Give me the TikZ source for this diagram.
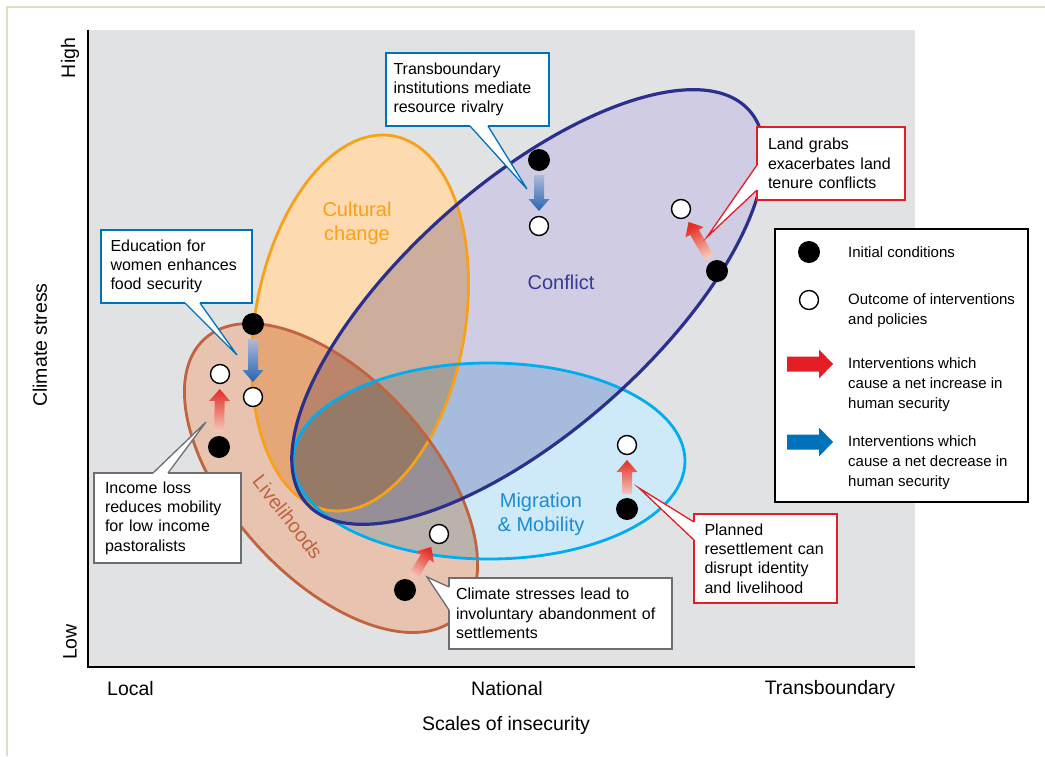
\documentclass[tikz,border=0pt]{standalone}
\usepackage{fontspec}
\setmainfont{Liberation Sans}
\usetikzlibrary{calc}

\definecolor{bggray}{RGB}{225,226,228}
\definecolor{framegreen}{RGB}{211,229,189}
\definecolor{cultfill}{RGB}{253,218,175}
\definecolor{cultline}{RGB}{247,161,26}
\definecolor{livfill}{RGB}{232,196,176}
\definecolor{livline}{RGB}{192,99,62}
\definecolor{conffill}{RGB}{207,204,228}
\definecolor{confline}{RGB}{43,48,140}
\definecolor{conftext}{RGB}{52,58,150}
\definecolor{migfill}{RGB}{206,234,248}
\definecolor{migline}{RGB}{0,174,239}
\definecolor{migtext}{RGB}{28,140,208}
\definecolor{callblue}{RGB}{0,114,188}
\definecolor{callgray}{RGB}{109,110,113}
\definecolor{callred}{RGB}{226,30,38}
\definecolor{arrred}{RGB}{228,45,38}
\definecolor{arrredpale}{RGB}{244,200,186}
\definecolor{arrblue}{RGB}{40,100,178}
\definecolor{arrbluepale}{RGB}{172,186,216}
\definecolor{legred}{RGB}{227,30,36}
\definecolor{legblue}{RGB}{0,114,188}

\newcommand{\cultell}[1]{\path[#1, rotate around={-10:(360,323)}] (360,323) ellipse [x radius=105, y radius=190];}
\newcommand{\livell}[1]{\path[#1, rotate around={-47.7:(331,478)}] (331,478) ellipse [x radius=188, y radius=100];}
\newcommand{\confell}[1]{\path[#1, rotate around={41.6:(528,307)}] (528,307) ellipse [x radius=296, y radius=124];}
\newcommand{\migell}[1]{\path[#1] (489,461) ellipse [x radius=196, y radius=98];}

\newcommand{\fatarrow}[5]{%
  \coordinate (fa-t) at ($(#1)!15pt!(#2)$);
  \coordinate (fa-h) at ($(#2)!15pt!(#1)$);
  \coordinate (fa-b) at ($(fa-h)!12pt!(fa-t)$);
  \shade[top color=#3, bottom color=#4, shading angle=#5]
    ($(fa-t)!5pt!90:(fa-h)$) -- ($(fa-b)!5pt!-90:(fa-t)$) -- ($(fa-b)!10.5pt!-90:(fa-t)$) -- (fa-h)
    -- ($(fa-b)!10.5pt!90:(fa-t)$) -- ($(fa-b)!5pt!90:(fa-t)$) -- ($(fa-t)!5pt!-90:(fa-h)$) -- cycle;
}

\newcommand{\callptr}[4]{%
  \draw[white, line width=2pt] #1 -- #2;
  \filldraw[fill=white, draw=#4, line width=1.3pt] #1 -- #3 -- #2;
}

\begin{document}
\begin{tikzpicture}[x=1pt,y=-1pt,
  bdot/.style={circle, fill=black, minimum size=22pt, inner sep=0pt, outer sep=0pt},
  wdot/.style={circle, fill=white, draw=black, line width=1.4pt, minimum size=19pt, inner sep=0pt},
  callbox/.style={draw, fill=white, line width=1.3pt, anchor=north west, align=left, inner ysep=0pt, outer sep=0pt, font=\fontsize{16}{19.3}\selectfont},
  axlabel/.style={font=\fontsize{19.5}{23}\selectfont, inner sep=0pt},
  ellabel/.style={font=\fontsize{20}{24}\selectfont, align=center, inner sep=0pt},
  leglabel/.style={font=\fontsize{15}{20}\selectfont, align=left, inner sep=0pt, anchor=west},
]
\useasboundingbox (0,0) rectangle (1045,756);
\fill[white] (0,0) rectangle (1045,756);
\draw[framegreen, line width=2pt] (7,756) -- (7,7) -- (1045,7);
\fill[bggray] (88,30) rectangle (915,667);

% ellipses
\cultell{fill=white}\livell{fill=white}\confell{fill=white}\migell{fill=white}
\begin{scope}[blend mode=multiply]
\cultell{fill=cultfill}
\livell{fill=livfill}
\confell{fill=conffill}
\migell{fill=migfill}
\end{scope}
\cultell{draw=cultline, line width=2.8pt}
\livell{draw=livline, line width=2.8pt}
\migell{draw=migline, line width=2.8pt}
\confell{draw=confline, line width=3.2pt}

% ellipse labels
\node[ellabel, text=cultline] (lcult) at (357,223) {Cultural\\change};
\node[ellabel, text=conftext] (lconf) at (561,282) {Conflict};
\node[ellabel, text=migtext] (lmig) at (541,514) {Migration\\\& Mobility};
\node[ellabel, text=livline, rotate=-52] (lliv) at (288,517) {Livelihoods};

% dots
\node[bdot] (edu0) at (253,324) {};
\node[wdot] (edu1) at (253,397) {};
\node[bdot] (inc0) at (219,447) {};
\node[wdot] (inc1) at (220,374) {};
\node[bdot] (tra0) at (539,160) {};
\node[wdot] (tra1) at (539,226) {};
\node[bdot] (lan0) at (717,271) {};
\node[wdot] (lan1) at (681,209) {};
\node[bdot] (pla0) at (627,509) {};
\node[wdot] (pla1) at (627,445) {};
\node[bdot] (cli0) at (405,590) {};
\node[wdot] (cli1) at (439,534) {};

% intervention arrows
\fatarrow{edu0}{edu1}{arrblue}{arrbluepale}{180}
\fatarrow{tra0}{tra1}{arrblue}{arrbluepale}{180}
\fatarrow{inc0}{inc1}{arrred}{arrredpale}{0}
\fatarrow{pla0}{pla1}{arrred}{arrredpale}{0}
\fatarrow{lan0}{lan1}{arrred}{arrredpale}{30}
\fatarrow{cli0}{cli1}{arrred}{arrredpale}{-31}

% callouts
\node[callbox, draw=callblue, text width=132pt, inner xsep=9.5pt, minimum height=73pt] (edu) at (101,230) {Education for\\women enhances\\food security};
\coordinate (edutip) at (237,355);
\callptr{($(edu.south west)+(84,0)$)}{($(edu.south west)+(99,0)$)}{(edutip)}{callblue}

\node[callbox, draw=callblue, text width=148pt, inner xsep=7.5pt, minimum height=73pt] (tra) at (386,53) {Transboundary\\institutions mediate\\resource rivalry};
\coordinate (tratip) at (527,189);
\callptr{($(tra.south west)+(84,0)$)}{($(tra.south west)+(102,0)$)}{(tratip)}{callblue}

\node[callbox, draw=callred, text width=126pt, inner xsep=11pt, minimum height=73pt] (lan) at (757,127) {Land grabs\\exacerbates land\\tenure conflicts};
\coordinate (lantip) at (707,237);
\callptr{($(lan.north west)+(0,38)$)}{($(lan.north west)+(0,63)$)}{(lantip)}{callred}

\node[callbox, draw=callgray, text width=125pt, inner xsep=11pt, minimum height=90pt] (inc) at (94,473) {Income loss\\reduces mobility\\for low income\\pastoralists};
\coordinate (inctip) at (206,422);
\callptr{($(inc.north west)+(59,0)$)}{($(inc.north west)+(74,0)$)}{(inctip)}{callgray}

\node[callbox, draw=callgray, text width=209pt, inner xsep=7pt, minimum height=71pt] (cli) at (449,578) {Climate stresses lead to\\involuntary abandonment of\\settlements};
\coordinate (clitip) at (427,577);
\callptr{($(cli.north west)+(0,9)$)}{($(cli.north west)+(0,32)$)}{(clitip)}{callgray}

\node[callbox, draw=callred, text width=122pt, inner xsep=10.5pt, minimum height=89pt] (pla) at (694,514) {Planned\\resettlement can\\disrupt identity\\and livelihood};
\coordinate (platip) at (639,488);
\callptr{($(pla.north west)+(0,8)$)}{($(pla.north west)+(0,26)$)}{(platip)}{callred}

% legend
\node[draw=black, line width=2pt, fill=white, minimum width=253pt, minimum height=273pt, anchor=north west, inner sep=0pt, outer sep=0pt] (legend) at (775,229) {};
\node[bdot] (lgb) at (809,252) {};
\node[wdot] (lgw) at (809,300) {};
\node[leglabel, anchor=base west] (lg1) at (848,257) {Initial conditions};
\node[leglabel] (lg2) at (848,311) {Outcome of interventions\\and policies};
\node[leglabel] (lg3) at (848,385) {Interventions which\\cause a net increase in\\human security};
\node[leglabel] (lg4) at (848,463) {Interventions which\\cause a net decrease in\\human security};
\coordinate (lr) at (787,364);
\fill[legred] (lr) ++(0,-7.5) -- ++(32,0) -- ++(0,-7) -- ++(14,14.5) -- ++(-14,14.5) -- ++(0,-7) -- ++(-32,0) -- cycle;
\coordinate (lb) at (787,442);
\fill[legblue] (lb) ++(0,-7.5) -- ++(32,0) -- ++(0,-7) -- ++(14,14.5) -- ++(-14,14.5) -- ++(0,-7) -- ++(-32,0) -- cycle;

% axes
\draw[line width=2.5pt] (88,30) -- (88,667) -- (915,667);
\node[axlabel, rotate=90] (high) at (70,58) {High};
\node[axlabel, rotate=90] (low) at (70,642) {Low};
\node[axlabel, rotate=90] (ystress) at (40,345) {Climate stress};
\node[axlabel] (local) at (130.5,689) {Local};
\node[axlabel] (national) at (507,689) {National};
\node[axlabel] (transb) at (830,689) {Transboundary};
\node[axlabel] (xlabel) at (506,725) {Scales of insecurity};
\end{tikzpicture}
\end{document}
